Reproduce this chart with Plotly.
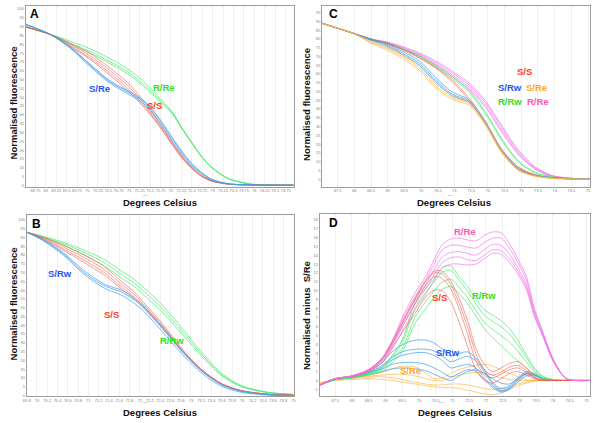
import plotly.graph_objects as go

# ---- Panel A : S/Re vs S/S vs R/Re (normalised melt curves)
A_X = [68.52, 69.1, 69.58, 70.06, 70.53, 71.0, 71.32, 71.55, 71.79, 72.03, 72.26, 72.5, 72.74, 72.97, 73.37, 73.92, 74.4, 74.94]
A_SRE = [
    [91.5, 85.7, 77.9, 67.5, 58.1, 51.5, 46.9, 41.2, 33.7, 25.2, 17.7, 11.2, 6.5, 3.1, 0.8, 0.3, 0.2, 0.2],
    [91.2, 85.7, 78.3, 68.2, 58.8, 52.5, 48.0, 42.5, 35.0, 26.5, 18.8, 12.0, 7.0, 3.4, 1.0, 0.3, 0.2, 0.2],
    [91.0, 85.7, 78.6, 68.8, 59.5, 53.2, 48.8, 43.2, 35.8, 27.3, 19.5, 12.6, 7.4, 3.7, 1.1, 0.4, 0.2, 0.2],
]
A_SS = [
    [90.0, 85.7, 80.8, 74.8, 66.8, 57.5, 48.5, 41.5, 33.5, 24.8, 17.0, 10.5, 5.6, 2.8, 0.9, 0.3, 0.2, 0.2],
    [89.9, 85.7, 80.0, 73.5, 65.3, 55.8, 47.2, 40.3, 32.6, 24.0, 16.5, 10.1, 5.4, 2.7, 0.9, 0.3, 0.2, 0.2],
    [89.8, 85.6, 79.3, 72.3, 63.8, 54.2, 46.0, 39.4, 31.8, 23.4, 16.0, 9.8, 5.2, 2.6, 0.9, 0.3, 0.2, 0.2],
    [89.8, 85.5, 78.8, 71.5, 62.6, 53.0, 45.2, 38.8, 31.3, 23.0, 15.7, 9.6, 5.1, 2.5, 0.8, 0.3, 0.2, 0.2],
]
A_RRE = [
    [89.8, 85.8, 81.8, 77.5, 72.0, 65.5, 59.5, 54.0, 48.0, 41.8, 33.0, 24.5, 16.5, 10.6, 4.0, 0.8, 0.3, 0.2],
    [89.8, 85.7, 80.7, 75.9, 70.3, 63.8, 57.7, 52.7, 47.0, 41.2, 32.6, 24.2, 16.2, 10.4, 4.0, 0.8, 0.3, 0.2],
    [89.8, 85.7, 80.2, 75.0, 69.2, 62.6, 56.6, 51.8, 46.3, 40.7, 32.3, 24.0, 16.1, 10.3, 3.9, 0.8, 0.3, 0.2],
]

# ---- Panel B : S/Rw vs S/S vs R/Rw
B_X = [69.8, 70.13, 70.52, 70.9, 71.29, 71.67, 71.9, 72.06, 72.44, 72.83, 73.22, 73.6, 73.99, 74.5, 75.0]
B_SRW = [
    [93.0, 88.3, 80.5, 70.4, 62.8, 58.6, 54.3, 50.5, 38.2, 25.0, 13.7, 6.1, 2.4, 0.5, 0.0],
    [93.0, 88.6, 81.2, 71.5, 63.8, 59.6, 55.3, 51.5, 39.0, 25.6, 14.0, 6.2, 2.4, 0.5, 0.0],
    [93.0, 88.0, 79.8, 69.4, 61.5, 56.8, 52.4, 48.6, 36.5, 23.5, 12.5, 5.2, 1.8, 0.3, 0.0],
]
B_SS = [
    [93.0, 90.0, 85.5, 80.2, 73.8, 64.4, 59.0, 53.6, 41.0, 26.5, 14.6, 6.8, 2.8, 0.8, 0.2],
    [93.0, 89.6, 84.5, 78.9, 72.2, 62.8, 57.5, 52.4, 40.1, 25.9, 14.3, 6.7, 2.8, 0.8, 0.2],
    [93.0, 89.2, 83.4, 77.3, 70.4, 61.2, 56.0, 51.2, 39.3, 25.4, 14.0, 6.5, 2.7, 0.8, 0.2],
    [93.0, 88.9, 82.6, 76.0, 69.0, 60.0, 55.0, 50.4, 38.8, 25.1, 13.8, 6.4, 2.6, 0.7, 0.2],
]
B_RRW = [
    [93.0, 90.6, 87.2, 83.0, 77.8, 70.4, 66.0, 62.0, 51.6, 38.2, 24.4, 12.6, 5.6, 1.9, 0.6],
    [93.0, 90.2, 86.4, 81.7, 76.0, 68.4, 64.0, 59.9, 49.6, 36.4, 23.1, 11.8, 5.2, 1.8, 0.6],
    [93.0, 89.9, 85.6, 80.4, 74.2, 66.4, 62.0, 57.8, 47.6, 34.8, 22.0, 11.2, 4.9, 1.7, 0.6],
]

# ---- Panel C : all five genotypes
C_X = [67.04, 67.97, 68.47, 68.96, 69.45, 69.95, 70.44, 70.93, 71.43, 71.92, 72.41, 72.91, 73.40, 73.89, 74.38, 75.06]
C_SRE = [
    [88.9, 83.2, 78.4, 74.7, 69.9, 63.3, 53.2, 46.5, 43.3, 31.9, 15.7, 5.3, 1.9, 0.7, 0.2, 0.0],
    [88.9, 83.0, 77.8, 73.8, 68.8, 62.0, 52.0, 45.5, 42.3, 31.0, 15.0, 5.0, 1.8, 0.6, 0.2, 0.0],
    [88.9, 83.3, 78.9, 75.4, 70.8, 64.5, 54.6, 47.6, 44.2, 32.6, 16.3, 5.6, 2.0, 0.7, 0.2, 0.0],
]
C_SRW = [
    [88.9, 83.2, 79.8, 76.6, 71.8, 66.1, 56.5, 48.5, 44.5, 32.5, 16.3, 6.0, 2.2, 0.9, 0.3, 0.0],
    [88.9, 83.3, 80.2, 77.2, 72.8, 67.4, 58.0, 49.8, 45.3, 33.2, 16.8, 6.2, 2.3, 0.9, 0.3, 0.0],
    [88.9, 83.2, 79.4, 76.0, 71.0, 65.0, 55.4, 47.6, 43.8, 32.0, 16.0, 5.8, 2.1, 0.8, 0.3, 0.0],
]
C_SS = [
    [88.9, 83.2, 79.8, 77.5, 73.7, 69.0, 63.3, 55.6, 45.2, 32.0, 16.7, 6.8, 2.6, 0.9, 0.3, 0.0],
    [88.9, 83.2, 79.9, 77.7, 74.0, 69.5, 63.8, 56.6, 46.5, 33.0, 17.3, 7.1, 2.7, 0.9, 0.3, 0.0],
]
C_RRW = [
    [88.9, 83.2, 79.8, 77.5, 74.1, 69.9, 64.2, 57.6, 49.9, 37.6, 22.4, 10.0, 3.8, 1.4, 0.4, 0.0],
    [88.9, 83.2, 79.9, 77.7, 74.4, 70.3, 64.8, 58.4, 50.9, 38.6, 23.2, 10.5, 4.0, 1.5, 0.4, 0.0],
]
C_RRE = [
    [88.9, 83.2, 79.8, 77.9, 74.7, 70.9, 65.7, 59.5, 52.5, 42.3, 28.1, 14.8, 6.3, 1.9, 0.7, 0.0],
    [88.9, 83.2, 80.0, 78.2, 75.2, 71.5, 66.5, 60.6, 53.8, 43.8, 29.6, 15.8, 6.8, 2.1, 0.7, 0.0],
    [88.9, 83.2, 80.1, 78.4, 75.6, 72.1, 67.4, 61.6, 55.0, 45.0, 30.8, 16.8, 7.3, 2.3, 0.8, 0.0],
    [88.9, 83.2, 79.7, 77.6, 74.3, 70.3, 65.0, 58.6, 51.5, 41.2, 27.0, 14.0, 5.9, 1.8, 0.6, 0.0],
]

# ---- Panel D : difference plot, normalised minus S/Re
D_X = [67.05, 67.5, 68.0, 68.5, 68.9, 69.2, 69.5, 69.9, 70.2, 70.45, 70.7, 70.95, 71.2, 71.45,
       71.7, 71.95, 72.2, 72.45, 72.7, 72.95, 73.2, 73.45, 73.7, 74.0, 74.4, 75.1]
D_RRE = [
    [-0.5, 0.2, 0.5, 1.2, 2.5, 4.4, 7.0, 9.9, 11.6, 13.5, 15.2, 15.8, 15.9, 15.7, 15.6, 16.2, 16.6, 16.5, 15.3, 13.6, 11.7, 8.0, 5.4, 2.5, 0.2, 0.0],
    [-0.5, 0.2, 0.5, 1.2, 2.4, 4.2, 6.7, 9.5, 11.2, 13.0, 14.6, 15.1, 15.1, 14.9, 14.8, 15.4, 15.9, 15.9, 14.8, 13.2, 11.3, 7.8, 5.3, 2.4, 0.2, 0.0],
    [-0.5, 0.2, 0.5, 1.1, 2.3, 4.0, 6.4, 9.1, 10.7, 12.4, 13.8, 14.3, 14.4, 14.2, 14.0, 14.6, 15.2, 15.1, 14.1, 12.6, 10.8, 7.5, 5.1, 2.3, 0.2, 0.0],
    [-0.5, 0.2, 0.5, 1.1, 2.2, 3.8, 6.0, 8.6, 10.2, 11.8, 13.2, 13.7, 13.8, 13.5, 13.4, 14.0, 14.6, 14.5, 13.6, 12.2, 10.5, 7.3, 5.0, 2.2, 0.2, 0.0],
    [-0.5, 0.2, 0.4, 1.0, 2.0, 3.5, 5.5, 8.0, 9.6, 11.2, 12.6, 13.0, 13.0, 12.9, 13.0, 13.6, 14.2, 14.1, 13.2, 11.9, 10.2, 7.1, 4.9, 2.2, 0.2, 0.0],
]
D_SS = [
    [-0.5, 0.2, 0.5, 1.2, 2.5, 4.4, 6.5, 9.3, 11.2, 12.2, 12.2, 11.1, 9.2, 6.7, 3.6, 1.8, 1.0, 1.4, 1.9, 2.1, 1.4, 0.4, 0.1, 0.0, 0.0, 0.0],
    [-0.5, 0.2, 0.5, 1.2, 2.4, 4.3, 6.3, 9.1, 11.0, 12.0, 11.9, 10.7, 8.6, 6.0, 3.0, 1.2, 0.6, 0.9, 1.5, 1.7, 1.1, 0.3, 0.0, 0.0, 0.0, 0.0],
    [-0.5, 0.2, 0.5, 1.1, 2.3, 4.1, 6.0, 8.7, 10.6, 11.6, 11.4, 10.2, 8.0, 5.2, 2.2, 0.6, 0.3, 0.7, 1.2, 1.4, 0.9, 0.3, 0.0, 0.0, 0.0, 0.0],
    [-0.5, 0.2, 0.4, 1.0, 2.0, 3.7, 5.3, 7.6, 9.3, 10.1, 10.0, 8.8, 6.5, 3.8, 1.2, 0.0, -0.3, 0.2, 0.8, 1.0, 0.6, 0.2, 0.0, 0.0, 0.0, 0.0],
]
D_RRW = [
    [-0.5, 0.1, 0.3, 0.8, 1.5, 2.8, 4.5, 8.8, 10.3, 11.4, 12.6, 12.8, 11.6, 10.5, 9.1, 7.9, 7.3, 6.7, 5.8, 4.5, 2.9, 1.4, 0.5, 0.1, 0.0, 0.0],
    [-0.5, 0.1, 0.3, 0.8, 1.4, 2.6, 4.2, 8.2, 9.8, 11.0, 12.1, 12.3, 11.2, 10.0, 8.6, 7.3, 6.6, 6.0, 5.2, 4.0, 2.6, 1.2, 0.4, 0.1, 0.0, 0.0],
    [-0.5, 0.1, 0.3, 0.7, 1.2, 2.3, 3.6, 7.2, 8.8, 10.0, 11.0, 11.3, 10.4, 9.2, 7.8, 6.5, 5.7, 5.0, 4.3, 3.3, 2.1, 1.0, 0.3, 0.1, 0.0, 0.0],
    [-0.5, 0.1, 0.3, 0.6, 1.0, 2.0, 3.2, 6.5, 8.0, 9.2, 10.2, 10.5, 9.7, 8.6, 7.2, 5.8, 4.8, 3.9, 3.0, 2.2, 1.4, 0.7, 0.2, 0.0, 0.0, 0.0],
]
D_SRW = [
    [-0.5, 0.1, 0.4, 1.0, 2.0, 3.2, 4.0, 4.5, 4.5, 4.2, 3.5, 2.7, 3.0, 3.2, 2.5, 1.2, -0.2, -0.9, -0.6, 0.3, 1.0, 0.8, 0.2, 0.0, 0.0, 0.0],
    [-0.5, 0.1, 0.4, 0.9, 1.7, 2.6, 3.2, 3.5, 3.5, 3.3, 2.7, 2.1, 2.4, 2.7, 2.2, 1.0, -0.4, -1.1, -0.8, 0.1, 0.8, 0.6, 0.2, 0.0, 0.0, 0.0],
    [-0.5, 0.1, 0.4, 0.9, 1.5, 2.3, 2.8, 3.1, 3.1, 2.8, 2.2, 1.4, 1.6, 1.8, 1.4, 0.3, -0.6, -1.2, -0.9, 0.0, 0.7, 0.6, 0.2, 0.0, 0.0, 0.0],
    [-0.5, 0.1, 0.3, 0.8, 1.3, 1.8, 2.0, 2.0, 1.8, 1.4, 0.9, 0.4, 0.8, 1.2, 1.0, 0.1, -0.8, -1.3, -1.0, -0.2, 0.5, 0.5, 0.2, 0.0, 0.0, 0.0],
    [-0.5, 0.1, 0.3, 0.7, 1.0, 1.3, 1.4, 1.3, 1.1, 0.7, 0.3, 0.0, 0.5, 1.0, 1.2, 0.8, 0.2, -0.3, -0.4, 0.2, 0.8, 0.7, 0.2, 0.0, 0.0, 0.0],
]
D_SRE = [
    [-0.3, 0.1, 0.3, 0.6, 0.9, 1.3, 1.6, 1.5, 0.8, 0.2, 0.3, 0.8, 1.2, 1.5, 1.7, 1.8, 1.6, 1.2, 0.8, 0.4, 0.1, 0.0, 0.0, 0.0, 0.0, 0.0],
    [-0.3, 0.1, 0.3, 0.5, 0.6, 0.7, 0.7, 0.5, 0.2, 0.0, 0.0, 0.3, 0.6, 0.8, 0.9, 0.8, 0.6, 0.3, 0.1, 0.0, 0.0, 0.0, 0.0, 0.0, 0.0, 0.0],
    [-0.3, 0.1, 0.2, 0.4, 0.4, 0.3, 0.1, -0.2, -0.4, -0.5, -0.5, -0.4, -0.4, -0.5, -0.7, -0.9, -1.0, -0.9, -0.7, -0.4, -0.2, 0.0, 0.0, 0.0, 0.0, 0.0],
    [-0.3, 0.0, 0.1, 0.2, 0.1, 0.0, -0.2, -0.4, -0.6, -0.7, -0.8, -0.8, -0.9, -1.1, -1.3, -1.5, -1.6, -1.4, -1.0, -0.6, -0.3, -0.1, 0.0, 0.0, 0.0, 0.0],
]

# line colours (semi transparent, like overlapping replicates)
BLUE = "rgba(70,160,235,0.75)"
RED = "rgba(240,95,80,0.6)"
GREEN = "rgba(70,235,110,0.7)"
ORANGE = "rgba(255,175,60,0.65)"
PINK = "rgba(240,110,230,0.65)"

FONT = "Liberation Sans, Arial, sans-serif"
W, H = 600, 423

fig = go.Figure()


def add_group(xs, reps, color, xa, ya):
    for ys in reps:
        fig.add_trace(go.Scatter(
            x=xs, y=ys, mode="lines", xaxis=xa, yaxis=ya,
            line=dict(color=color, width=1, shape="spline", smoothing=0.8),
            showlegend=False, hoverinfo="skip",
        ))


# panel A
add_group(A_X, A_RRE, GREEN, "x", "y")
add_group(A_X, A_SS, RED, "x", "y")
add_group(A_X, A_SRE, BLUE, "x", "y")
# panel C
add_group(C_X, C_RRE, PINK, "x2", "y2")
add_group(C_X, C_RRW, GREEN, "x2", "y2")
add_group(C_X, C_SS, RED, "x2", "y2")
add_group(C_X, C_SRW, BLUE, "x2", "y2")
add_group(C_X, C_SRE, ORANGE, "x2", "y2")
# panel B
add_group(B_X, B_RRW, GREEN, "x3", "y3")
add_group(B_X, B_SS, RED, "x3", "y3")
add_group(B_X, B_SRW, BLUE, "x3", "y3")
# panel D
add_group(D_X, D_SRE, ORANGE, "x4", "y4")
add_group(D_X, D_SRW, BLUE, "x4", "y4")
add_group(D_X, D_RRW, GREEN, "x4", "y4")
add_group(D_X, D_SS, RED, "x4", "y4")
add_group(D_X, D_RRE, PINK, "x4", "y4")


def px_x(p):
    return p / W


def px_y(p):
    return 1 - p / H


base_ax = dict(showline=True, linecolor="#9c9c9c", linewidth=1, mirror=True,
               zeroline=False, ticks="", tickangle=0,
               tickfont=dict(size=4, color="#808080", family=FONT),
               tickmode="linear", fixedrange=True)

fig.update_layout(
    width=W, height=H, margin=dict(l=0, r=0, t=0, b=0),
    paper_bgcolor="white", plot_bgcolor="white", font=dict(family=FONT),
    xaxis=dict(base_ax, domain=[px_x(22), px_x(293)], range=[68.52, 74.94], tick0=68.75, dtick=0.25,
               showgrid=True, gridcolor="#f0f0f0", anchor="y"),
    yaxis=dict(base_ax, domain=[px_y(187.5), px_y(6)], range=[-0.6, 101.7], tick0=0, dtick=5,
               showgrid=False, anchor="x"),
    xaxis2=dict(base_ax, domain=[px_x(322), px_x(593)], range=[67.04, 75.06], tick0=67.5, dtick=0.5,
                showgrid=True, gridcolor="#f0f0f0", anchor="y2"),
    yaxis2=dict(base_ax, domain=[px_y(187.5), px_y(6)], range=[-4.2, 98.8], tick0=0, dtick=5,
                showgrid=False, anchor="x2"),
    xaxis3=dict(base_ax, domain=[px_x(23), px_x(293)], range=[69.8, 75.0], tick0=69.8, dtick=0.2,
                showgrid=True, gridcolor="#f0f0f0", anchor="y3"),
    yaxis3=dict(base_ax, domain=[px_y(398.3), px_y(216)], range=[-0.5, 102.8], tick0=0, dtick=5,
                showgrid=False, anchor="x3"),
    xaxis4=dict(base_ax, domain=[px_x(319.5), px_x(592.7)], range=[67.04, 75.1], tick0=67.5, dtick=0.5,
                showgrid=True, gridcolor="#f0f0f0", anchor="y4"),
    yaxis4=dict(base_ax, domain=[px_y(398), px_y(215)], range=[-1.75, 18.6], tick0=0, dtick=1,
                showgrid=False, anchor="x4"),
)

ann = []


def label(text, x, y, color, size=9.5, angle=0):
    ann.append(dict(text="<b>%s</b>" % text, x=px_x(x), y=px_y(y), xref="paper", yref="paper",
                    showarrow=False, textangle=angle, xanchor="center", yanchor="middle",
                    borderpad=0, font=dict(size=size, color=color, family=FONT)))


# panel letters
label("A", 30.5, 14.5, "black", 12)
label("C", 333, 14.5, "black", 12)
label("B", 33, 225.5, "black", 12)
label("D", 333, 224.5, "black", 12)

# axis titles
label("Normalised fluorescence", 10, 103, "#111111", 9.5, -90)
label("Normalised fluorescence", 306, 105, "#111111", 9.5, -90)
label("Normalised fluorescence", 10, 305, "#111111", 9.5, -90)
label("Normalised minus  S/Re", 306, 317, "#111111", 9.5, -90)
label("Degrees Celsius", 158, 203.5, "#111111", 9.5)
label("Degrees Celsius", 455, 203.5, "#111111", 9.5)
label("Degrees Celsius", 157.5, 414, "#111111", 9.5)
label("Degrees Celsius", 456, 414, "#111111", 9.5)

# curve labels
C_BLUE, C_RED, C_GREEN, C_ORANGE, C_PINK = "#2456f0", "#ff3a22", "#2fe02a", "#ffa82a", "#ff55b0"
label("S/Re", 96.7, 88.7, C_BLUE)
label("R/Re", 162.3, 88.3, C_GREEN)
label("S/S", 152.3, 106, C_RED)

label("S/Rw", 56.7, 275.3, C_BLUE)
label("S/S", 109, 316, C_RED)
label("R/Rw", 170, 342, C_GREEN)

label("S/S", 526.7, 72, C_RED)
label("S/Rw", 512, 87.7, C_BLUE)
label("S/Re", 538.3, 87.7, C_ORANGE)
label("R/Rw", 512, 101.7, C_GREEN)
label("R/Re", 540, 101.7, C_PINK)

label("R/Re", 466.7, 232.3, C_PINK)
label("S/S", 441, 298.7, C_RED)
label("R/Rw", 485.7, 297.3, C_GREEN)
label("S/Rw", 449.3, 354.3, C_BLUE)
label("S/Re", 411.7, 372.3, C_ORANGE)

# tiny unit marks under the x axes
for cx, cy in [(140, 196.3), (455, 196.3), (140, 406.8), (446, 406.8)]:
    ann.append(dict(text="deg", x=px_x(cx), y=px_y(cy), xref="paper", yref="paper", showarrow=False,
                    borderpad=0, font=dict(size=2.5, color="#888888", family=FONT)))

fig.update_layout(annotations=ann)

# the page's default body margin would push the figure 8px down and right
fig.write_html("out.html", config={"displayModeBar": False},
               post_script="document.body.style.margin='0px';document.body.style.overflow='hidden';")
